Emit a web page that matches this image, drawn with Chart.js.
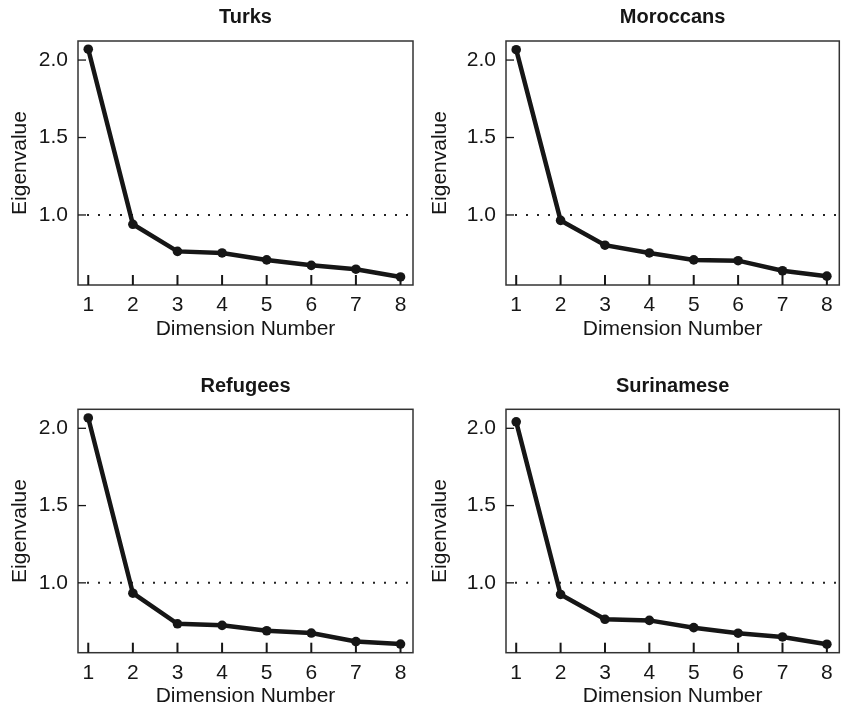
<!DOCTYPE html>
<html>
<head>
<meta charset="utf-8">
<script src="https://cdn.jsdelivr.net/npm/chart.js@4.4.0/dist/chart.umd.min.js"></script>
<style>
  body { margin: 0; background: #fff; }
  #wrap { position: relative; width: 841px; height: 709px; }
  canvas { position: absolute; }
</style>
</head>
<body>
<div id="wrap">
  <canvas id="c1" width="420" height="342" style="left:0;top:0"></canvas>
  <canvas id="c2" width="421" height="342" style="left:420px;top:0"></canvas>
  <canvas id="c3" width="420" height="341" style="left:0;top:368px"></canvas>
  <canvas id="c4" width="421" height="341" style="left:420px;top:368px"></canvas>
</div>
<script>
const dims = [1, 2, 3, 4, 5, 6, 7, 8];
const turks = [2.07, 0.94, 0.765, 0.755, 0.71, 0.675, 0.65, 0.60];
const moroccans = [2.067, 0.965, 0.805, 0.755, 0.71, 0.705, 0.64, 0.605];
const refugees = [2.067, 0.933, 0.735, 0.725, 0.69, 0.675, 0.62, 0.604];
const surinamese = [2.042, 0.925, 0.764, 0.757, 0.71, 0.674, 0.65, 0.603];
const yTicks = [1.0, 1.5, 2.0];
const cutoff = 1.0;

const ink = '#161616';
const font = '"Liberation Sans", Arial, Helvetica, sans-serif';

// box, inward ticks and the dotted eigenvalue = 1 line
const framePlugin = {
  id: 'frame',
  beforeDatasetsDraw(chart) {
    const { ctx, chartArea: a, scales: { x, y } } = chart;
    ctx.save();
    ctx.strokeStyle = '#333';
    ctx.lineWidth = 1.5;
    ctx.strokeRect(a.left, a.top, a.right - a.left, a.bottom - a.top);

    ctx.strokeStyle = ink;
    ctx.lineWidth = 2;
    dims.forEach(d => {
      const px = x.getPixelForValue(d);
      ctx.beginPath();
      ctx.moveTo(px, a.bottom);
      ctx.lineTo(px, a.bottom - 10);
      ctx.stroke();
    });
    ctx.lineWidth = 1.3;
    yTicks.forEach(v => {
      const py = y.getPixelForValue(v);
      ctx.beginPath();
      ctx.moveTo(a.left, py);
      ctx.lineTo(a.left + 8, py);
      ctx.stroke();
    });

    const py = y.getPixelForValue(cutoff);
    ctx.strokeStyle = '#222';
    ctx.lineWidth = 2;
    ctx.setLineDash([2, 9]);
    ctx.lineDashOffset = -9;
    ctx.beginPath();
    ctx.moveTo(a.left, py);
    ctx.lineTo(a.right, py);
    ctx.stroke();
    ctx.restore();
  }
};

function makeChart(id, title, values, yWidth, xHeight, padRight, titlePad) {
  return new Chart(document.getElementById(id), {
    type: 'line',
    data: {
      datasets: [{
        data: dims.map((d, i) => ({ x: d, y: values[i] })),
        borderColor: ink,
        backgroundColor: ink,
        borderWidth: 4.5,
        pointRadius: 4.8,
        pointBackgroundColor: ink,
        pointBorderWidth: 0,
        tension: 0
      }]
    },
    options: {
      responsive: false,
      animation: false,
      layout: { autoPadding: false, padding: { left: 0, right: padRight, top: 0, bottom: 0 } },
      plugins: {
        legend: { display: false },
        tooltip: { enabled: false },
        title: {
          display: true,
          text: title,
          fullSize: false,
          color: ink,
          font: { family: font, size: 20, weight: 'bold', lineHeight: 1.2 },
          padding: titlePad
        }
      },
      scales: {
        x: {
          type: 'linear',
          min: 0.77,
          max: 8.28,
          afterBuildTicks: s => { s.ticks = dims.map(v => ({ value: v })); },
          afterFit: s => { s.height = xHeight; s.paddingLeft = 0; s.paddingRight = 0; },
          grid: { display: false, drawTicks: false },
          border: { display: false },
          ticks: { color: ink, font: { family: font, size: 21 }, padding: 8, maxRotation: 0 },
          title: {
            display: true,
            text: 'Dimension Number',
            color: ink,
            font: { family: font, size: 21 },
            padding: { top: 0, bottom: 0 }
          }
        },
        y: {
          min: 0.548,
          max: 2.123,
          afterBuildTicks: s => { s.ticks = yTicks.map(v => ({ value: v })); },
          afterFit: s => { s.width = yWidth; },
          grid: { display: false, drawTicks: false },
          border: { display: false },
          ticks: { color: ink, font: { family: font, size: 21 }, padding: 10, callback: v => v.toFixed(1) },
          title: {
            display: true,
            text: 'Eigenvalue',
            color: ink,
            font: { family: font, size: 21 },
            padding: { top: 8, bottom: 0 }
          }
        }
      }
    },
    plugins: [framePlugin]
  });
}

makeChart('c1', 'Turks', turks, 78, 57, 7, { top: 5, bottom: 12 });
makeChart('c2', 'Moroccans', moroccans, 86, 57, 1.7, { top: 5, bottom: 12 });
makeChart('c3', 'Refugees', refugees, 78, 56.3, 7, { top: 6, bottom: 11.3 });
makeChart('c4', 'Surinamese', surinamese, 86, 56.3, 1.7, { top: 6, bottom: 11.3 });
</script>
</body>
</html>
